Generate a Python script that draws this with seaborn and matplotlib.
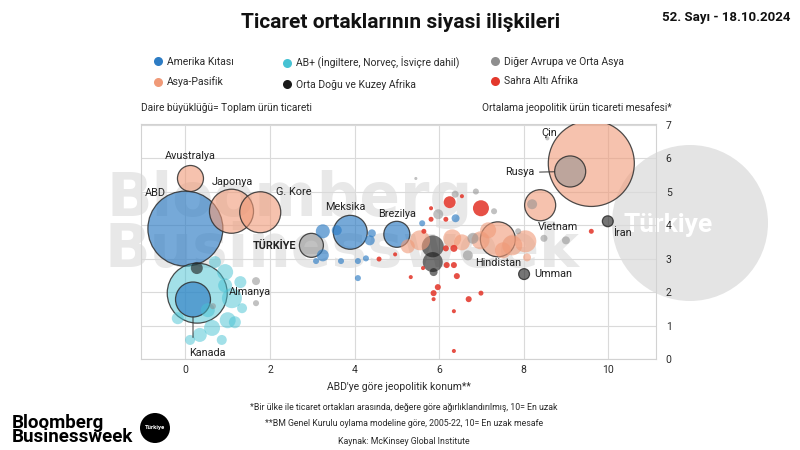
import numpy as np
import pandas as pd
import matplotlib
matplotlib.use("Agg")
import matplotlib.pyplot as plt
from matplotlib.lines import Line2D
from matplotlib.patches import Circle
from matplotlib.colors import to_rgba
import seaborn as sns

# ---------------- data ----------------
regions = ["Amerika Kıtası", "AB+ (İngiltere, Norveç, İsviçre dahil)", "Diğer Avrupa ve Orta Asya",
           "Asya-Pasifik", "Orta Doğu ve Kuzey Afrika", "Sahra Altı Afrika"]
region_colors = ["#2d7cc4", "#46c2d3", "#8e8e8e", "#f09a78", "#1a1a1a", "#e3382c"]
region_alpha = [0.65, 0.5, 0.55, 0.6, 0.6, 0.88]

# labelled partners
lab_names = ["ABD", "Çin", "Rusya", "Avustralya", "Japonya", "G. Kore", "Meksika", "Brezilya",
             "TÜRKİYE", "Almanya", "Kanada", "Vietnam", "Hindistan", "Umman", "İran"]
lab_region = [0, 3, 2, 3, 3, 3, 0, 0, 2, 1, 0, 3, 3, 4, 4]
lab_x = [0.0, 9.6, 9.1, 0.12, 1.09, 1.77, 3.9, 5.0, 2.98, 0.28, 0.18, 8.39, 7.39, 8.01, 9.99]
lab_y = [3.9, 5.85, 5.61, 5.4, 4.42, 4.39, 3.79, 3.73, 3.4, 1.97, 1.78, 4.6, 3.58, 2.54, 4.12]
lab_trade = [4780, 6290, 820, 575, 1650, 1430, 980, 575, 490, 3060, 1040, 820, 1040, 100, 100]

# unlabelled partners
oth_region = ([1] * 14 + [0] * 12 + [2] * 15 + [4] * 4 + [3] * 10 + [5] * 24)
oth_x = [0.94, 1.1, 1.0, 0.63, 0.34, 1.3, 0.7, -0.18, 0.86, 0.53, 1.34, 0.11, 1.17, 0.94,
         3.25, 3.58, 3.25, 3.09, 3.68, 4.08, 4.27, 4.08, 4.36, 4.41, 5.6, 6.39,
         1.67, 1.67, 0.65, 6.38, 6.87, 5.98, 6.8, 6.68, 7.3, 7.87, 8.48, 9.0, 8.2, 8.56, 5.45,
         0.27, 5.85, 5.85, 5.87,
         5.55, 6.31, 6.54, 5.26, 8.04, 7.73, 6.98, 7.16, 7.51, 8.08,
         4.58, 5.33, 6.25, 6.99, 6.16, 6.35, 5.97, 5.87, 5.87, 6.7, 6.99, 6.35, 6.35, 6.42,
         6.18, 6.35, 5.64, 5.81, 5.81, 6.16, 6.54, 4.96, 9.6, 5.62]
oth_y = [2.6, 1.82, 1.16, 0.93, 0.72, 2.3, 2.9, 1.22, 0.57, 1.46, 1.52, 0.57, 1.1, 2.2,
         3.82, 3.85, 3.1, 2.93, 2.93, 2.93, 3.01, 2.42, 3.55, 3.76, 4.06, 4.21,
         2.33, 1.67, 1.58, 4.93, 5.01, 4.33, 3.61, 3.1, 4.42, 3.82, 3.61, 3.55, 4.63, 6.6, 5.4,
         2.72, 3.37, 2.9, 2.6,
         3.55, 3.61, 3.49, 3.37, 3.52, 3.4, 3.55, 3.85, 3.25, 3.04,
         2.99, 2.45, 4.69, 4.51, 3.31, 3.31, 2.15, 1.97, 1.79, 1.79, 1.97, 1.43, 0.24, 2.48,
         2.81, 2.81, 3.82, 4.18, 4.51, 4.18, 4.87, 3.13, 3.82, 2.72]
oth_trade = [218, 340, 218, 218, 167, 122, 122, 122, 85, 167, 85, 85, 122, 167,
             167, 85, 122, 31, 31, 31, 31, 31, 85, 54, 31, 54,
             54, 31, 31, 42, 31, 85, 103, 85, 31, 31, 42, 54, 85, 14, 8,
             122, 411, 340, 54,
             340, 275, 218, 167, 411, 340, 275, 218, 218, 54,
             21, 14, 122, 218, 31, 42, 31, 31, 14, 31, 21, 14, 14, 31,
             31, 31, 21, 21, 14, 21, 14, 14, 21, 14]

x_ticks = [0, 2, 4, 6, 8, 10]
y_ticks = [0, 1, 2, 3, 4, 5, 6, 7]

# ---------------- frame ----------------
df = pd.DataFrame({
    "name": lab_names + [""] * len(oth_x),
    "region": [regions[i] for i in lab_region + oth_region],
    "x": lab_x + oth_x,
    "y": lab_y + oth_y,
    "trade": lab_trade + oth_trade,
})
df = df.sort_values("trade", ascending=False, kind="stable").reset_index(drop=True)

sns.set_style("white")
FONT = ["Roboto", "DejaVu Sans"]
plt.rcParams["font.family"] = FONT
TXT = "#2b2b2b"

fig = plt.figure(figsize=(8, 4.5), dpi=100)
ax = fig.add_axes([141 / 800, 1 - 359 / 450, (656 - 141) / 800, (359 - 124) / 450])
ax.set_facecolor("none")

# watermark (behind everything)
WM = ["DejaVu Sans"]
fig.text(106 / 800, 1 - 199 / 450, "Bloomberg", fontsize=43, fontweight="bold",
         family=WM, color="#e8e8e8", ha="left", va="center", zorder=-3)
fig.text(104 / 800, 1 - 251 / 450, "Businessweek", fontsize=43, fontweight="bold",
         family=WM, color="#e8e8e8", ha="left", va="center", zorder=-3)
circ = Circle((6.9, 4.5 - 2.23), 0.78, transform=fig.dpi_scale_trans,
              facecolor="#e4e4e4", edgecolor="none", zorder=-3)
fig.add_artist(circ)
fig.text(668 / 800, 1 - 225 / 450, "Türkiye", fontsize=19, fontweight="bold",
         color="white", ha="center", va="center", zorder=-2)

pal = dict(zip(regions, region_colors))
smax_norm = max(lab_trade)
px_pt = 0.72
area_per_trade = (2 * px_pt) ** 2 / 3.4
sns.scatterplot(data=df, x="x", y="y", hue="region", size="trade", palette=pal,
                sizes=(0, area_per_trade * smax_norm), size_norm=(0, smax_norm),
                legend=False, ax=ax, linewidth=0, zorder=3)
coll = ax.collections[-1]
coll.set_alpha(None)
fcs = []
ecs = []
lws = []
for _, r in df.iterrows():
    ri = regions.index(r["region"])
    fcs.append(to_rgba(region_colors[ri], region_alpha[ri]))
    if r["name"]:
        ecs.append(to_rgba("#2e2e2e", 0.85))
        lws.append(0.9)
    else:
        ecs.append((0, 0, 0, 0))
        lws.append(0)
coll.set_facecolors(fcs)
coll.set_edgecolors(ecs)
coll.set_linewidths(lws)

# axes styling
ax.set_xlim(-1.05, 11.13)
ax.set_ylim(0, 7.03)
ax.set_xticks(x_ticks)
ax.set_yticks(y_ticks)
ax.yaxis.tick_right()
ax.tick_params(length=0, labelsize=7.5, colors=TXT)
ax.tick_params(axis="x", pad=4)
ax.tick_params(axis="y", pad=7)
ax.grid(True, color="#dadada", lw=0.8)
ax.set_axisbelow(True)
for s in ax.spines.values():
    s.set_color("#d2d2d2")
    s.set_linewidth(0.8)
ax.set_xlabel("ABD'ye göre jeopolitik konum**", fontsize=7.5, color=TXT, labelpad=5)
ax.set_ylabel("")

# labels (offsets in pixels)
lab_style = {
    "ABD": ((-41, 36), "left", None),
    "Çin": ((-42, 30), "center", None),
    "Rusya": ((-36, -1), "right", 15.5),
    "Avustralya": ((0, 22), "center", None),
    "Japonya": ((1, 29), "center", None),
    "G. Kore": ((16, 20), "left", None),
    "Meksika": ((-5, 25), "center", None),
    "Brezilya": ((0, 20), "center", None),
    "TÜRKİYE": ((-15, -1), "right", None),
    "Almanya": ((32, 1), "left", None),
    "Kanada": ((-4, -54), "left", None),
    "Vietnam": ((18, -22), "center", None),
    "Hindistan": ((0, -24), "center", None),
    "Umman": ((10, 0), "left", None),
    "İran": ((5, -12), "left", None),
}
for nm, xx, yy in zip(lab_names, lab_x, lab_y):
    off, ha, line_r = lab_style[nm]
    bold = nm == "TÜRKİYE"
    kw = {}
    if line_r is not None:
        kw["arrowprops"] = dict(arrowstyle="-", color="#333333", lw=0.7,
                                shrinkA=1.5, shrinkB=line_r * px_pt)
    ax.annotate(nm, xy=(xx, yy), xytext=off, textcoords="offset pixels",
                ha=ha, va="center", fontsize=7.8,
                fontweight="bold" if bold else "normal", color="#222222", zorder=6, **kw)
# Kanada leader line
ki = lab_names.index("Kanada")
ax.annotate("", xy=(lab_x[ki], lab_y[ki]), xytext=(0, -38), textcoords="offset pixels",
            arrowprops=dict(arrowstyle="-", color="#333333", lw=0.7, shrinkA=0,
                            shrinkB=17.5 * px_pt), zorder=6)

# titles and notes
fig.text(401 / 800, 1 - 22 / 450, "Ticaret ortaklarının siyasi ilişkileri", fontsize=15,
         fontweight="bold", color="#111111", ha="center", va="center")
fig.text(790 / 800, 1 - 17 / 450, "52. Sayı - 18.10.2024", fontsize=9.5,
         fontweight="bold", color="#111111", ha="right", va="center")
fig.text(141 / 800, 1 - 108 / 450, "Daire büyüklüğü= Toplam ürün ticareti", fontsize=7.3,
         color=TXT, ha="left", va="center")
fig.text(672 / 800, 1 - 108 / 450, "Ortalama jeopolitik ürün ticareti mesafesi*", fontsize=7.3,
         color=TXT, ha="right", va="center")

# legend: three columns
col_pos = [163, 292, 500]
for c in range(3):
    idx = [c, c + 3]
    handles = [Line2D([], [], marker="o", ls="", markersize=6.5,
                      markerfacecolor=region_colors[i], markeredgewidth=0) for i in idx]
    leg = fig.legend(handles, [regions[i] for i in idx], loc="upper left",
                     bbox_to_anchor=((col_pos[c] - 10) / 800, 1 - 57 / 450),
                     frameon=False, fontsize=7.5, handletextpad=0.3, labelspacing=0.9,
                     handlelength=1.0, borderaxespad=0, borderpad=0)
    for t in leg.get_texts():
        t.set_color(TXT)

notes = ["*Bir ülke ile ticaret ortakları arasında, değere göre ağırlıklandırılmış, 10= En uzak",
         "**BM Genel Kurulu oylama modeline göre, 2005-22, 10= En uzak mesafe",
         "Kaynak: McKinsey Global Institute"]
for t, yy in zip(notes, [407, 424, 441]):
    fig.text(404 / 800, 1 - yy / 450, t, fontsize=6.3, color=TXT, ha="center", va="center")

# logo
fig.text(12 / 800, 1 - 423 / 450, "Bloomberg", fontsize=13.5, fontweight="bold",
         color="black", ha="left", va="center")
fig.text(12 / 800, 1 - 437 / 450, "Businessweek", fontsize=13.5, fontweight="bold",
         color="black", ha="left", va="center")
logo = Circle((1.55, 4.5 - 4.28), 0.15, transform=fig.dpi_scale_trans,
              facecolor="black", edgecolor="none")
fig.add_artist(logo)
fig.text(155 / 800, 1 - 428 / 450, "Türkiye", fontsize=4.2, fontweight="bold",
         color="white", ha="center", va="center")

fig.savefig("out.png", dpi=100)
